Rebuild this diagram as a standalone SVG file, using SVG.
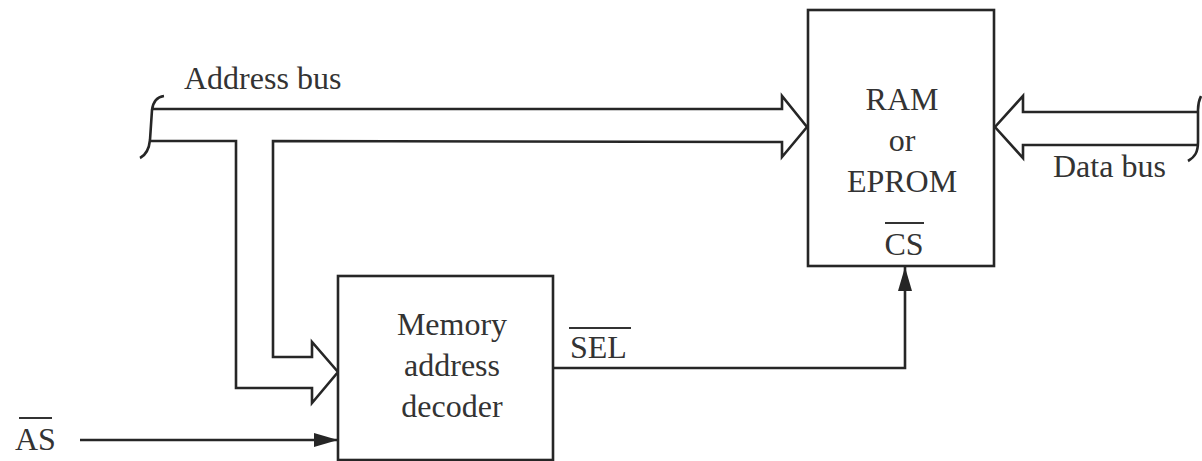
<svg xmlns="http://www.w3.org/2000/svg" width="1202" height="461" viewBox="0 0 1202 461">
  <style>
    .box { fill: #ffffff; stroke: #262626; stroke-width: 2.6; }
    .wire { fill: none; stroke: #262626; stroke-width: 2.6; stroke-linejoin: miter; }
    .lbl { font-family: "Liberation Serif", "Times New Roman", serif; font-size: 32px; fill: #333333; }
    .mid { text-anchor: middle; }
    .bar { stroke: #333333; stroke-width: 2.2; }
  </style>
  <defs>
    <marker id="tri" viewBox="0 0 24 14" refX="24" refY="7" markerWidth="24" markerHeight="14" markerUnits="userSpaceOnUse" orient="auto">
      <path d="M0,0 L24,7 L0,14 Z" fill="#262626"/>
    </marker>
  </defs>

  <rect width="1202" height="461" fill="#ffffff"/>

  <!-- connectors -->
  <g id="connectors">
    <!-- address bus: brace on the left -->
    <path class="wire" d="M164,96 C156,97 153,102 152,110 L150,140 C149,150 146,155 140,158"/>
    <!-- address bus to RAM / EPROM, with wide arrowhead, branching down to the decoder -->
    <path class="wire" d="M153,109 L782,109 L782,96 L807,127 L782,157 L782,142 L273,141 L273,357 L312,357 L312,342 L338,372 L312,403 L312,388 L236,388 L236,141 L151,141"/>
    <!-- data bus: brace on the right and wide arrowhead into RAM / EPROM -->
    <path class="wire" d="M1201,96 C1199,100 1198,104 1198,110 L1198,142 C1198,152 1195,157 1188,161"/>
    <path class="wire" d="M1198,112 L1023,112 L1023,96 L995,127 L1023,158 L1023,145 L1198,145"/>
    <!-- AS strobe into the decoder -->
    <line class="wire" x1="80" y1="440" x2="338" y2="440" marker-end="url(#tri)"/>
    <!-- SEL output to CS -->
    <path class="wire" d="M553,368 L905,368 L905,267" marker-end="url(#tri)"/>
  </g>

  <!-- memory chip -->
  <g id="ram">
    <rect class="box" x="808" y="10" width="186" height="256"/>
    <text class="lbl mid" x="902" y="110">RAM</text>
    <text class="lbl mid" x="902" y="151">or</text>
    <text class="lbl mid" x="902" y="192">EPROM</text>
    <text class="lbl mid" x="904" y="255">CS</text>
    <line class="bar" x1="885" y1="223" x2="924" y2="223"/>
  </g>

  <!-- decoder -->
  <g id="decoder">
    <rect class="box" x="338" y="276" width="215" height="184"/>
    <text class="lbl mid" x="452" y="335">Memory</text>
    <text class="lbl mid" x="452" y="376">address</text>
    <text class="lbl mid" x="452" y="417">decoder</text>
  </g>

  <!-- bus and signal labels -->
  <g id="address-bus-label">
    <text class="lbl" x="184" y="89">Address bus</text>
  </g>
  <g id="data-bus-label">
    <text class="lbl" x="1053" y="177">Data bus</text>
  </g>
  <g id="as-label">
    <text class="lbl" x="15" y="450">AS</text>
    <line class="bar" x1="19" y1="418" x2="52" y2="418"/>
  </g>
  <g id="sel-label">
    <text class="lbl" x="570" y="358">SEL</text>
    <line class="bar" x1="569" y1="328" x2="631" y2="328"/>
  </g>
</svg>
